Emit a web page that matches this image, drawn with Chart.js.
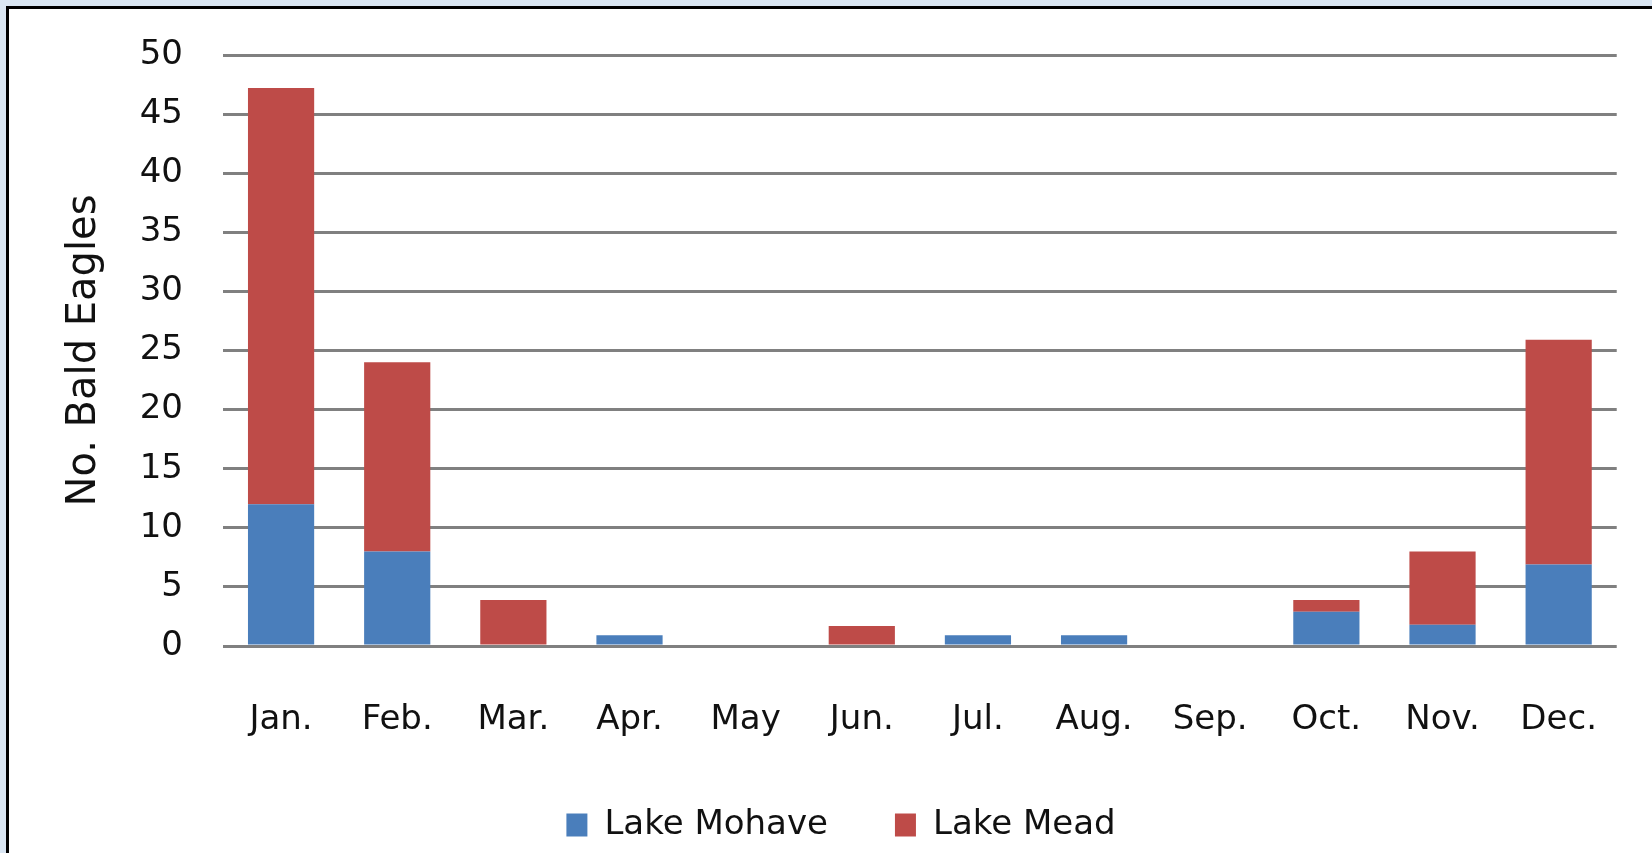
<!DOCTYPE html>
<html>
<head>
<meta charset="utf-8">
<title>Bald Eagles by month</title>
<script src="https://cdn.jsdelivr.net/npm/chart.js@4/dist/chart.umd.min.js"></script>
<style>
  html, body {
    margin: 0;
    padding: 0;
    width: 1652px;
    height: 853px;
    overflow: hidden;
    background: #dae6f3;
  }
  #panel {
    position: absolute;
    left: 6px;
    top: 6px;
    width: 1660px;
    height: 860px;
    background: #fff;
    border-left: 3px solid #000;
    border-top: 3px solid #000;
  }
  #wrap {
    position: absolute;
    left: 0;
    top: 0;
    width: 1643px;
    height: 844px;
  }
</style>
</head>
<body>
<div id="panel">
  <div id="wrap"><canvas id="chart"></canvas></div>
</div>
<script>
// values
const months = ["Jan.", "Feb.", "Mar.", "Apr.", "May", "Jun.", "Jul.", "Aug.", "Sep.", "Oct.", "Nov.", "Dec."];
const lakeMohave = [12, 8, 0, 0.9, 0, 0, 0.9, 0.9, 0, 2.9, 1.8, 6.9];
const lakeMead = [35.2, 16, 3.9, 0, 0, 1.7, 0, 0, 0, 1.0, 6.2, 19];
const yTicks = { min: 0, max: 50, step: 5 };

(function () {
  "use strict";

  const font = { family: "DejaVu Sans", size: 34 };
  const titleFont = { family: "DejaVu Sans", size: 40 };
  const textColor = "#111";

  const ctx = document.getElementById("chart").getContext("2d");

  new Chart(ctx, {
    type: "bar",
    data: {
      labels: months,
      datasets: [
        {
          label: "Lake Mohave",
          data: lakeMohave,
          backgroundColor: "#4a7ebb",
          borderWidth: 0,
        },
        {
          label: "Lake Mead",
          data: lakeMead,
          backgroundColor: "#be4b48",
          borderWidth: 0,
        },
      ],
    },
    options: {
      responsive: true,
      maintainAspectRatio: false,
      animation: false,
      categoryPercentage: 1,
      barPercentage: 0.57,
      layout: {
        padding: { left: 46, right: 25, top: 46, bottom: 1 },
      },
      plugins: {
        tooltip: { enabled: false },
        legend: {
          position: "bottom",
          labels: {
            font,
            color: textColor,
            boxWidth: 21,
            boxHeight: 23,
            padding: 67,
          },
        },
      },
      scales: {
        x: {
          stacked: true,
          grid: { display: false, drawTicks: false },
          border: { display: false },
          ticks: { font, color: textColor, padding: 54, maxRotation: 0 },
          afterFit: (scale) => {
            scale.height = 95;
          },
        },
        y: {
          stacked: true,
          min: yTicks.min,
          max: yTicks.max,
          // invisible tick marks give the gap between labels and gridlines
          grid: {
            color: "#808080",
            lineWidth: 3,
            drawTicks: true,
            tickLength: 38,
            tickColor: "rgba(0,0,0,0)",
          },
          border: { display: false },
          ticks: {
            stepSize: yTicks.step,
            font,
            color: textColor,
            padding: 2,
          },
          title: {
            display: true,
            text: "No. Bald Eagles",
            font: titleFont,
            color: textColor,
            padding: { top: 6, bottom: 0 },
          },
          afterFit: (scale) => {
            scale.width = 168;
          },
        },
      },
    },
  });
})();
</script>
</body>
</html>
